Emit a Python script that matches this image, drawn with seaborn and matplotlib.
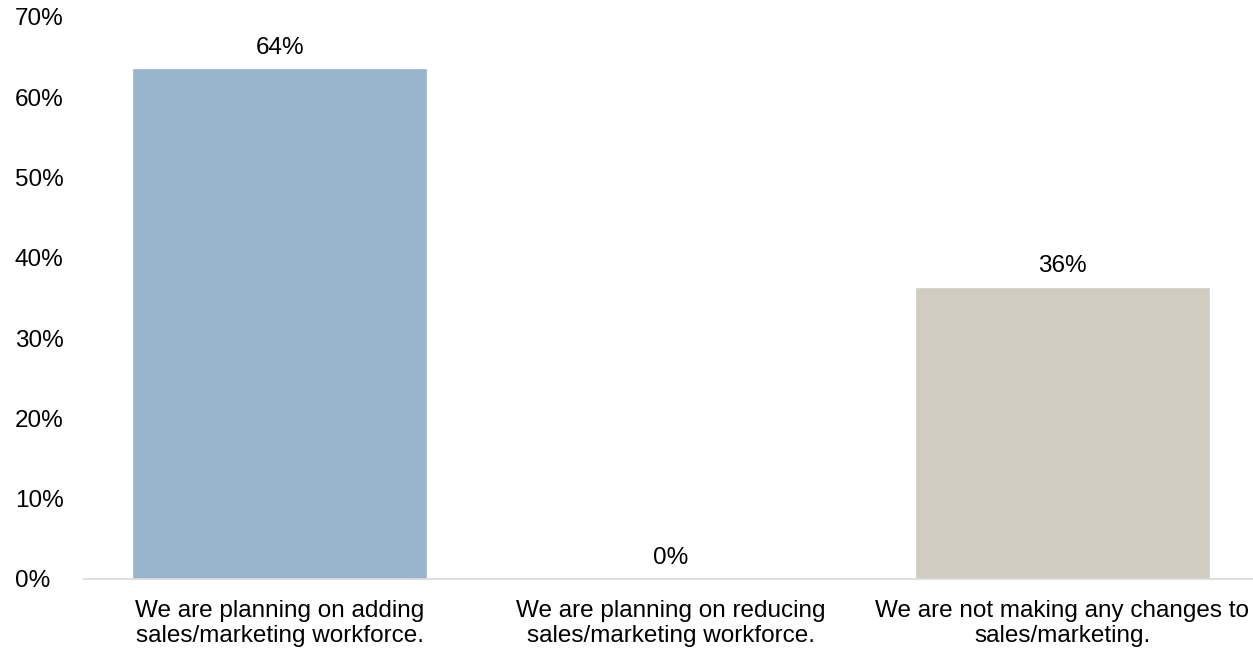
import matplotlib
matplotlib.use("Agg")
import matplotlib.pyplot as plt
import seaborn as sns
import pandas as pd

# Chart data
categories = ["We are planning on adding\nsales/marketing workforce.",
              "We are planning on reducing\nsales/marketing workforce.",
              "We are not making any changes to\nsales/marketing."]
shares = [63.6, 0.0, 36.4]
value_labels = ["64%", "0%", "36%"]
y_ticks = [0, 10, 20, 30, 40, 50, 60, 70]
bar_colors = ["#98B3CC", "#98B3CC", "#D0CCC1"]

sns.set_style("white")
plt.rcParams['font.family'] = ['Liberation Sans', 'DejaVu Sans']

df = pd.DataFrame({"cat": categories, "share": shares})

fig = plt.figure(figsize=(12.53, 6.51), dpi=100)
ax = fig.add_axes([0.067, 0.1106, 0.933, 0.8634])

sns.barplot(data=df, x="cat", y="share", hue="cat", palette=bar_colors,
            width=0.753, legend=False, ax=ax, saturation=1)

ax.set_ylim(0, 70)
ax.set_xlim(-0.5, 2.487)
ax.set_yticks(y_ticks)
ax.set_yticklabels([f"{t}%" for t in y_ticks])
ax.set(xlabel="", ylabel="")

for s in ["top", "right", "left"]:
    ax.spines[s].set_visible(False)
ax.spines["bottom"].set_color("#D9D9D9")
ax.spines["bottom"].set_linewidth(1.2)

ax.tick_params(axis="both", length=0, labelsize=17.5, colors="black")
ax.tick_params(axis="y", pad=49.7)
for lbl in ax.get_yticklabels():
    lbl.set_horizontalalignment("left")
ax.tick_params(axis="x", pad=15)

# Value labels above each bar
for i, bar_group in enumerate(ax.containers):
    ax.bar_label(bar_group, labels=[value_labels[i]], padding=7,
                 fontsize=17.5, color="black")

fig.savefig("out.png", dpi=100)
